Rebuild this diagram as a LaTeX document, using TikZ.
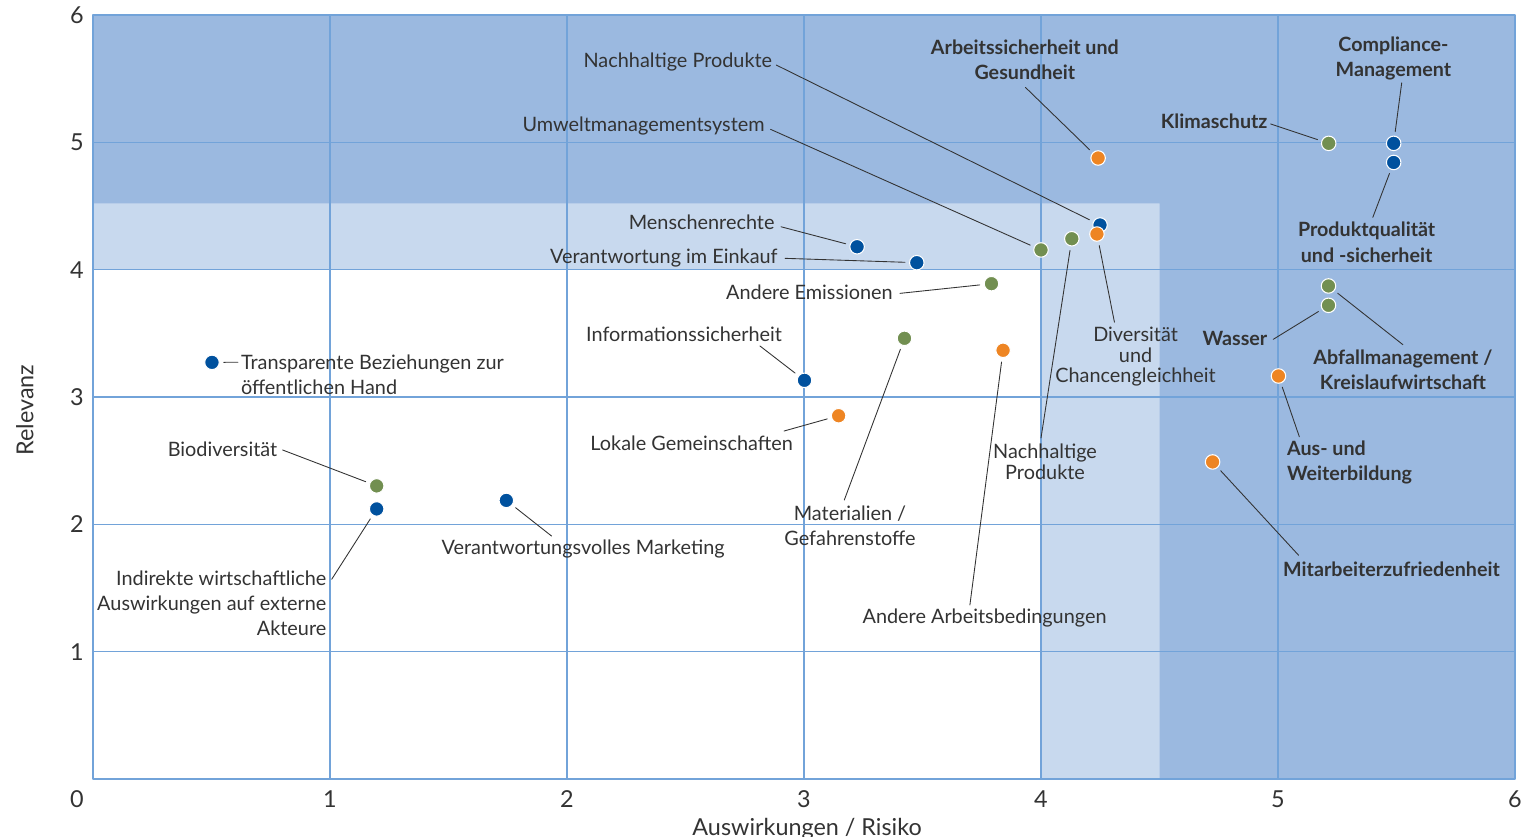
\documentclass[tikz,border=0pt]{standalone}
\usepackage{fontspec}
\setmainfont{Lato}
\definecolor{dunkel}{HTML}{9BB9E0}
\definecolor{hell}{HTML}{C8D9EE}
\definecolor{gitter}{HTML}{72A3D9}
\definecolor{blau}{HTML}{00519E}
\definecolor{gruen}{HTML}{728F51}
\definecolor{orange}{HTML}{EE8523}
\definecolor{schrift}{HTML}{333333}
\begin{document}
\begin{tikzpicture}[x=4.74cm, y=2.54667cm, font=\fontsize{11.3}{14.35}\selectfont, text=schrift, line join=round, line cap=round,
  punkt/.style={circle, draw=white, line width=0.6pt, minimum size=0.29cm, inner sep=0pt},
  pblau/.style={punkt, fill=blau},
  pgruen/.style={punkt, fill=gruen},
  porange/.style={punkt, fill=orange},
  linie/.style={draw=schrift, line width=0.5pt, shorten <=0.08cm},
  lbl/.style={inner sep=0pt},
  eng/.style={lbl, font=\fontsize{11.3}{11.9}\selectfont},
  fett/.style={lbl, font=\fontsize{11.2}{14.35}\selectfont\bfseries},
  achse/.style={font=\fontsize{13.3}{16}\selectfont}]
\useasboundingbox (-0.3924,-0.4476) rectangle (6.0675,6.1179);
% Flaechen (hell / dunkel)
\fill[hell] (0,4) -- (4,4) -- (4,0) -- (6,0) -- (6,6) -- (0,6) -- cycle;
\fill[dunkel] (0,4.52) -- (4.5,4.52) -- (4.5,0) -- (6,0) -- (6,6) -- (0,6) -- cycle;
% Gitterlinien
\draw[gitter, line width=0.8pt] (1,0) -- (1,6) (2,0) -- (2,6) (3,0) -- (3,6) (4,0) -- (4,6) (5,0) -- (5,6);
\draw[gitter, line width=0.8pt] (0,1) -- (6,1) (0,2) -- (6,2) (0,3) -- (6,3) (0,4) -- (6,4) (0,5) -- (6,5);
\draw[gitter, line width=0.6pt] (0,0) rectangle (6,6);
% Achsenbeschriftung
\node[achse] (y0) at (-0.068,-0.157) {0};
\node[achse] (y1) at (-0.068,1) {1};
\node[achse] (y2) at (-0.068,2) {2};
\node[achse] (y3) at (-0.068,3) {3};
\node[achse] (y4) at (-0.068,4) {4};
\node[achse] (y5) at (-0.068,5) {5};
\node[achse] (y6) at (-0.068,6) {6};
\node[achse] (x1) at (1,-0.157) {1};
\node[achse] (x2) at (2,-0.157) {2};
\node[achse] (x3) at (3,-0.157) {3};
\node[achse] (x4) at (4,-0.157) {4};
\node[achse] (x5) at (5,-0.157) {5};
\node[achse] (x6) at (6,-0.157) {6};
\node[achse, rotate=90] (ylab) at (-0.287,2.898) {Relevanz};
\node[achse] (xlab) at (3.013,-0.39) {Auswirkungen / Risiko};
% Punkte
\node[pblau] (d1) at (0.502,3.272) {};
\node[pgruen] (d2) at (1.197,2.302) {};
\node[pblau] (d3) at (1.197,2.121) {};
\node[pblau] (d4) at (1.744,2.188) {};
\node[pblau] (d5) at (3.002,3.131) {};
\node[porange] (d6) at (3.146,2.853) {};
\node[pgruen] (d7) at (3.424,3.461) {};
\node[porange] (d8) at (3.840,3.367) {};
\node[pgruen] (d9) at (3.791,3.890) {};
\node[pblau] (d10) at (3.224,4.180) {};
\node[pblau] (d11) at (3.476,4.055) {};
\node[pgruen] (d12) at (4.000,4.155) {};
\node[pgruen] (d13) at (4.130,4.243) {};
\node[pblau] (d14) at (4.249,4.351) {};
\node[porange] (d15) at (4.236,4.280) {};
\node[porange] (d16) at (4.241,4.877) {};
\node[pgruen] (d17) at (5.214,4.992) {};
\node[pblau] (d18) at (5.488,4.992) {};
\node[pblau] (d19) at (5.488,4.842) {};
\node[pgruen] (d20) at (5.213,3.872) {};
\node[pgruen] (d21) at (5.213,3.720) {};
\node[porange] (d22) at (5.002,3.165) {};
\node[porange] (d23) at (4.724,2.490) {};
% Enden der Hinweislinien an den Texten
\coordinate (e1) at (0.612,3.273);
\coordinate (e2) at (0.800,2.584);
\coordinate (e3) at (1.007,1.568);
\coordinate (e4) at (1.935,1.908);
\coordinate (e5) at (2.814,3.401);
\coordinate (e6) at (2.916,2.733);
\coordinate (e7) at (3.170,2.191);
\coordinate (e8) at (3.700,1.367);
\coordinate (e9) at (3.405,3.814);
\coordinate (e10) at (2.903,4.337);
\coordinate (e11) at (2.920,4.089);
\coordinate (e12) at (2.859,5.102);
\coordinate (e13) at (4.000,2.678);
\coordinate (e14) at (2.883,5.607);
\coordinate (e15) at (4.310,3.587);
\coordinate (e16) at (3.934,5.432);
\coordinate (e17) at (4.969,5.144);
\coordinate (e18) at (5.522,5.468);
\coordinate (e19) at (5.400,4.411);
\coordinate (e20) at (5.527,3.411);
\coordinate (e21) at (4.980,3.453);
\coordinate (e22) at (5.090,2.688);
\coordinate (e23) at (5.087,1.757);
% Hinweislinien
\draw[linie] (d1) -- (e1);
\draw[linie] (d2) -- (e2);
\draw[linie] (d3) -- (e3);
\draw[linie] (d4) -- (e4);
\draw[linie] (d5) -- (e5);
\draw[linie] (d6) -- (e6);
\draw[linie] (d7) -- (e7);
\draw[linie] (d8) -- (e8);
\draw[linie] (d9) -- (e9);
\draw[linie] (d10) -- (e10);
\draw[linie] (d11) -- (e11);
\draw[linie] (d12) -- (e12);
\draw[linie] (d13) -- (e13);
\draw[linie] (d14) -- (e14);
\draw[linie] (d15) -- (e15);
\draw[linie] (d16) -- (e16);
\draw[linie] (d17) -- (e17);
\draw[linie] (d18) -- (e18);
\draw[linie] (d19) -- (e19);
\draw[linie] (d20) -- (e20);
\draw[linie] (d21) -- (e21);
\draw[linie] (d22) -- (e22);
\draw[linie] (d23) -- (e23);
% Texte (normal)
\node[lbl, anchor=west, align=left] (t1) at (0.623,3.177) {Transparente Beziehungen zur\\öffentlichen Hand};
\node[lbl, anchor=east] (t2) at (0.779,2.592) {Biodiversität};
\node[lbl, anchor=east, align=right] (t3) at (0.986,1.382) {Indirekte wirtschaftliche\\Auswirkungen auf externe\\Akteure};
\node[lbl] (t4) at (2.068,1.804) {Verantwortungsvolles Marketing};
\node[lbl] (t5) at (2.494,3.492) {Informationssicherheit};
\node[lbl] (t6) at (2.526,2.636) {Lokale Gemeinschaften};
\node[lbl, align=center] (t7) at (3.194,1.988) {Materialien /\\Gefahrenstoffe};
\node[lbl] (t8) at (3.762,1.262) {Andere Arbeitsbedingungen};
\node[lbl, anchor=east] (t9) at (3.376,3.819) {Andere Emissionen};
\node[lbl, anchor=east] (t10) at (2.877,4.369) {Menschenrechte};
\node[lbl, anchor=east] (t11) at (2.890,4.092) {Verantwortung im Einkauf};
\node[lbl, anchor=east] (t12) at (2.835,5.128) {Umweltmanagementsystem};
\node[eng, align=center] (t13) at (4.017,2.490) {Nachhaltige\\Produkte};
\node[lbl, anchor=east] (t14) at (2.867,5.631) {Nachhaltige Produkte};
\node[eng, align=center] (t15) at (4.399,3.317) {Diversität\\und\\Chancengleichheit};
% Texte (fett)
\node[fett, align=center] (t16) at (3.932,5.651) {Arbeitssicherheit und\\Gesundheit};
\node[fett, anchor=east] (t17) at (4.957,5.162) {Klimaschutz};
\node[fett, align=center] (t18) at (5.487,5.660) {Compliance-\\Management};
\node[fett, align=center] (t19) at (5.374,4.216) {Produktqualität\\und -sicherheit};
\node[fett, align=center] (t20) at (5.527,3.214) {Abfallmanagement /\\Kreislaufwirtschaft};
\node[fett, anchor=east] (t21) at (4.956,3.461) {Wasser};
\node[fett, anchor=west, align=left] (t22) at (5.037,2.483) {Aus- und\\Weiterbildung};
\node[fett] (t23) at (5.479,1.647) {Mitarbeiterzufriedenheit};
\end{tikzpicture}
\end{document}
